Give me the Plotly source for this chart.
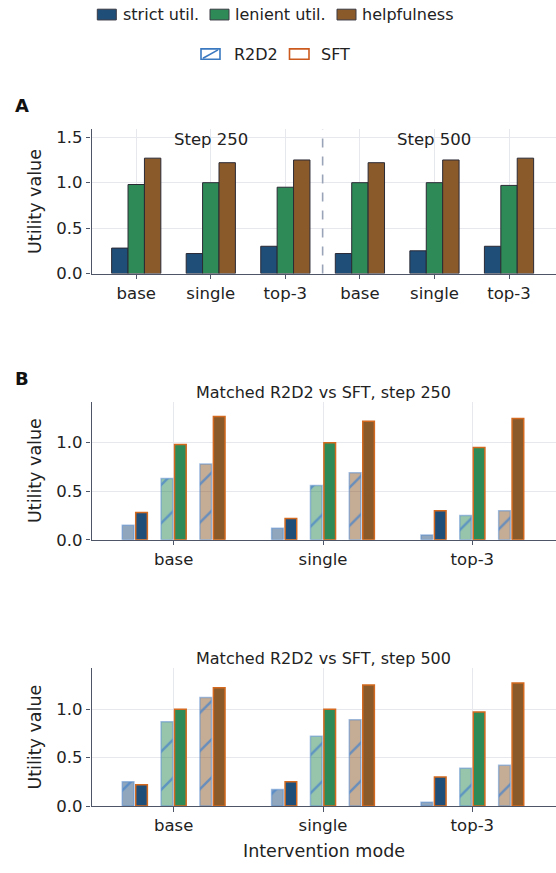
import plotly.graph_objects as go

# ---------------- data ----------------
modes = ["base", "single", "top-3"]
steps = [250, 500]
metric_names = ["strict util.", "lenient util.", "helpfulness"]
sources = ["R2D2", "SFT"]

sft_strict_250 = [0.28, 0.22, 0.30]
sft_lenient_250 = [0.98, 1.00, 0.95]
sft_help_250 = [1.27, 1.22, 1.25]
sft_strict_500 = [0.22, 0.25, 0.30]
sft_lenient_500 = [1.00, 1.00, 0.97]
sft_help_500 = [1.22, 1.25, 1.27]

r2d2_strict_250 = [0.15, 0.12, 0.05]
r2d2_lenient_250 = [0.63, 0.56, 0.25]
r2d2_help_250 = [0.78, 0.69, 0.30]
r2d2_strict_500 = [0.25, 0.17, 0.04]
r2d2_lenient_500 = [0.87, 0.72, 0.39]
r2d2_help_500 = [1.12, 0.89, 0.42]

y_ticks_a = [0.0, 0.5, 1.0, 1.5]
y_ticks_b = [0.0, 0.5, 1.0]

# ---------------- styling ----------------
W, H = 556, 873
FONT = "DejaVu Sans"
TXT = "#222222"
AXC = "#4d5566"
GRID = "#e7e7ee"
FILL = ["#1f4e79", "#2e8b57", "#8b5a2b"]
FILL_RGB = [(31, 78, 121), (46, 139, 87), (139, 90, 43)]
SFT_EDGE = "#d2691e"
R2D2_EDGE = "rgba(90,140,205,0.55)"
HATCH = "#4a84c8"


def px(x):
    return x / W


def py(y):
    return 1 - y / H


fig = go.Figure()

sft_by_metric = {
    250: [sft_strict_250, sft_lenient_250, sft_help_250],
    500: [sft_strict_500, sft_lenient_500, sft_help_500],
}
r2d2_by_metric = {
    250: [r2d2_strict_250, r2d2_lenient_250, r2d2_help_250],
    500: [r2d2_strict_500, r2d2_lenient_500, r2d2_help_500],
}

# ---------------- Panel A ----------------
a_pos = list(range(len(steps) * len(modes)))
a_labels = modes * len(steps)
bw_a = 0.22
for m in range(3):
    vals = sft_by_metric[250][m] + sft_by_metric[500][m]
    fig.add_trace(go.Bar(
        x=a_pos, y=vals, name=metric_names[m],
        offset=(m - 1) * bw_a - bw_a / 2, width=bw_a,
        marker=dict(color=FILL[m], line=dict(color="#2a2a35", width=1)),
        xaxis="x", yaxis="y", showlegend=False,
    ))

# ---------------- Panel B ----------------
bw_b = 0.078
sep = 0.26
half = 0.045
for k, s in enumerate(steps):
    xa = "x%d" % (k + 2)
    ya = "y%d" % (k + 2)
    for m in range(3):
        r, g, b = FILL_RGB[m]
        fig.add_trace(go.Bar(
            x=modes, y=r2d2_by_metric[s][m], name="R2D2 " + metric_names[m],
            offset=(m - 1) * sep - half - bw_b / 2, width=bw_b,
            marker=dict(
                color="rgba(%d,%d,%d,0.5)" % (r, g, b),
                line=dict(color=R2D2_EDGE, width=1.5),
                pattern=dict(shape="/", fgcolor=HATCH, fgopacity=0.75,
                             bgcolor="rgba(%d,%d,%d,0.5)" % (r, g, b),
                             size=27, solidity=0.09),
            ),
            xaxis=xa, yaxis=ya, showlegend=False,
        ))
        fig.add_trace(go.Bar(
            x=modes, y=sft_by_metric[s][m], name="SFT " + metric_names[m],
            offset=(m - 1) * sep + half - bw_b / 2, width=bw_b,
            marker=dict(color=FILL[m], line=dict(color=SFT_EDGE, width=1.5)),
            xaxis=xa, yaxis=ya, showlegend=False,
        ))

# ---------------- axes ----------------
x_dom = [px(91.5), 1.0]
common = dict(showline=True, linecolor=AXC, linewidth=1.3, ticks="outside",
              ticklen=4.5, tickcolor=AXC, tickwidth=1, showgrid=True,
              gridcolor=GRID, gridwidth=1, zeroline=False,
              tickfont=dict(size=16.5, color=TXT, family=FONT))

fig.update_layout(
    xaxis=dict(domain=x_dom, range=[-0.6, 5.63], tickvals=a_pos,
               ticktext=a_labels, anchor="y", **common),
    yaxis=dict(domain=[py(276), py(130)], range=[0, 1.587],
               tickvals=y_ticks_a, ticktext=["%.1f" % v for v in y_ticks_a],
               anchor="x", **common),
    xaxis2=dict(domain=x_dom, range=[-0.55, 2.56], type="category",
                anchor="y2", **common),
    yaxis2=dict(domain=[py(545.7), py(406)], range=[0, 1.42],
                tickvals=y_ticks_b, ticktext=["%.1f" % v for v in y_ticks_b],
                anchor="x2", **common),
    xaxis3=dict(domain=x_dom, range=[-0.55, 2.56], type="category",
                anchor="y3", **common),
    yaxis3=dict(domain=[py(815.3), py(676)], range=[0, 1.42],
                tickvals=y_ticks_b, ticktext=["%.1f" % v for v in y_ticks_b],
                anchor="x3", **common),
)

# dashed separator between steps in panel A
fig.add_shape(type="line", xref="x", yref="y domain",
              x0=len(modes) - 0.5, x1=len(modes) - 0.5, y0=0, y1=1,
              line=dict(color="#9aa4b8", width=1.6, dash="dash"))

ann = []
for k, s in enumerate(steps):
    ann.append(dict(x=k * len(modes) + (len(modes) - 1) / 2, xref="x",
                    y=py(140.5), yref="paper", text="Step %d" % s,
                    showarrow=False, font=dict(size=16.5, color=TXT, family=FONT),
                    xanchor="center", yanchor="middle"))
for k, s in enumerate(steps):
    ann.append(dict(x=(x_dom[0] + x_dom[1]) / 2, xref="paper",
                    y=py([396, 665.5][k]), yref="paper",
                    text="Matched R2D2 vs SFT, step %d" % s,
                    showarrow=False, font=dict(size=16, color=TXT, family=FONT),
                    xanchor="center", yanchor="middle"))
for yc in [203.5, 476, 746]:
    ann.append(dict(x=px(35), y=py(yc), xref="paper", yref="paper",
                    text="Utility value", textangle=-90, showarrow=False,
                    font=dict(size=17.5, color=TXT, family=FONT),
                    xanchor="center", yanchor="middle"))
ann.append(dict(x=(x_dom[0] + x_dom[1]) / 2, y=py(861), xref="paper", yref="paper",
                text="Intervention mode", showarrow=False,
                font=dict(size=17.5, color=TXT, family=FONT),
                xanchor="center", yanchor="middle"))
for letter, yc in [("A", 105.5), ("B", 382)]:
    ann.append(dict(x=px(21.5), y=py(yc), xref="paper", yref="paper",
                    text="<b>%s</b>" % letter, showarrow=False,
                    font=dict(size=18, color="#111111", family=FONT),
                    xanchor="center", yanchor="middle"))

# ---------------- manual legends ----------------
shapes = []
leg1 = [(97.3, 116.3, 122.7), (210.0, 229.0, 235.0), (337.0, 356.0, 362.3)]
for m, (x0, x1, tx) in enumerate(leg1):
    shapes.append(dict(type="rect", xref="paper", yref="paper",
                       x0=px(x0), x1=px(x1), y0=py(19.2), y1=py(8.3),
                       fillcolor=FILL[m], line=dict(color="#3a3a45", width=1)))
    ann.append(dict(x=px(tx - 2), y=py(13.8), xref="paper", yref="paper",
                    text=metric_names[m], showarrow=False,
                    font=dict(size=16, color=TXT, family=FONT),
                    xanchor="left", yanchor="middle"))

shapes.append(dict(type="rect", xref="paper", yref="paper",
                   x0=px(201), x1=px(220), y0=py(59), y1=py(48.5),
                   fillcolor="white", line=dict(color="#3a78c0", width=1.6)))
shapes.append(dict(type="line", xref="paper", yref="paper",
                   x0=px(203), x1=px(218), y0=py(58), y1=py(49.5),
                   line=dict(color="#3a78c0", width=1.6)))
ann.append(dict(x=px(234 - 2), y=py(54), xref="paper", yref="paper",
                text=sources[0], showarrow=False,
                font=dict(size=16, color=TXT, family=FONT),
                xanchor="left", yanchor="middle"))
shapes.append(dict(type="rect", xref="paper", yref="paper",
                   x0=px(289.5), x1=px(309), y0=py(59), y1=py(48.5),
                   fillcolor="white", line=dict(color="#cc5a1e", width=1.6)))
ann.append(dict(x=px(321 - 2), y=py(54), xref="paper", yref="paper",
                text=sources[1], showarrow=False,
                font=dict(size=16, color=TXT, family=FONT),
                xanchor="left", yanchor="middle"))

for sh in shapes:
    fig.add_shape(**sh)

fig.update_layout(
    width=W, height=H,
    margin=dict(l=0, r=0, t=0, b=0),
    paper_bgcolor="white", plot_bgcolor="white",
    barmode="overlay",
    font=dict(family=FONT, color=TXT),
    annotations=ann,
    showlegend=False,
)

fig.write_html("out.html")
